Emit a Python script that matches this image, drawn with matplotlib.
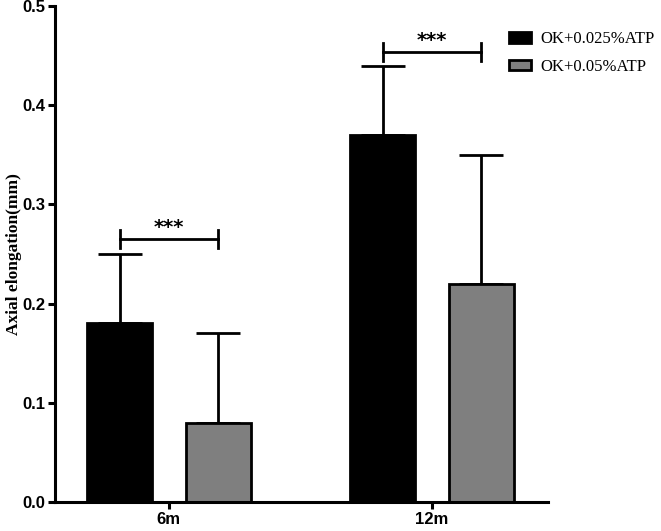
import numpy as np
import matplotlib.pyplot as plt
from matplotlib.patches import Patch

groups = ["6m", "12m"]
series = ["OK+0.025%ATP", "OK+0.05%ATP"]
means = [[0.18, 0.37], [0.08, 0.22]]
errors = [[0.07, 0.07], [0.09, 0.13]]
colors = ["black", "#7f7f7f"]
brackets = [0.265, 0.454]

x = np.arange(len(groups))
width = 0.247
offset = 0.187

fig = plt.figure(figsize=(6.61, 5.31), dpi=100)
ax = fig.add_axes([0.083, 0.0546, 0.746, 0.934])

for i, name in enumerate(series):
    pos = x + (i * 2 - 1) * offset
    ax.bar(pos, means[i], width, color=colors[i], edgecolor="black",
           linewidth=2, zorder=2)
    ax.errorbar(pos, means[i], yerr=[np.zeros(len(groups)), errors[i]],
                fmt="none", ecolor="black", elinewidth=2, capsize=16,
                capthick=2, zorder=1)

for g, yb in zip(x, brackets):
    x0, x1 = g - offset, g + offset
    ax.plot([x0, x1], [yb, yb], color="black", lw=2)
    ax.plot([x0, x0], [yb - 0.009, yb + 0.009], color="black", lw=2)
    ax.plot([x1, x1], [yb - 0.009, yb + 0.009], color="black", lw=2)
    ax.text(g, yb + 0.002, "***", ha="center", va="bottom",
            fontsize=14, fontweight="bold", family="DejaVu Sans")

ax.set_xlim(-0.433, 1.441)
ax.set_ylim(0, 0.5)
ax.set_yticks([0.0, 0.1, 0.2, 0.3, 0.4, 0.5])
ax.set_yticklabels(["0.0", "0.1", "0.2", "0.3", "0.4", "0.5"])
ax.set_xticks(x)
ax.set_xticklabels(groups)
for lab in ax.get_xticklabels() + ax.get_yticklabels():
    lab.set_family("Liberation Sans")
    lab.set_fontweight("bold")
    lab.set_fontsize(12)

ax.spines["top"].set_visible(False)
ax.spines["right"].set_visible(False)
ax.spines["left"].set_linewidth(2.2)
ax.spines["bottom"].set_linewidth(2.2)
ax.tick_params(width=2.2, length=5, pad=2)

ax.set_ylabel("Axial elongation(mm)", family="Liberation Serif",
              fontweight="bold", fontsize=12.5, labelpad=0)

handles = [Patch(facecolor=c, edgecolor="black", linewidth=2) for c in colors]
fig.legend(handles, series, loc="upper left", bbox_to_anchor=(0.760, 0.954),
           frameon=False, prop={"family": "Liberation Serif", "size": 12},
           handlelength=1.3, handleheight=0.6, handletextpad=0.6,
           labelspacing=0.7, borderaxespad=0)

fig.savefig("out.png", dpi=100)
